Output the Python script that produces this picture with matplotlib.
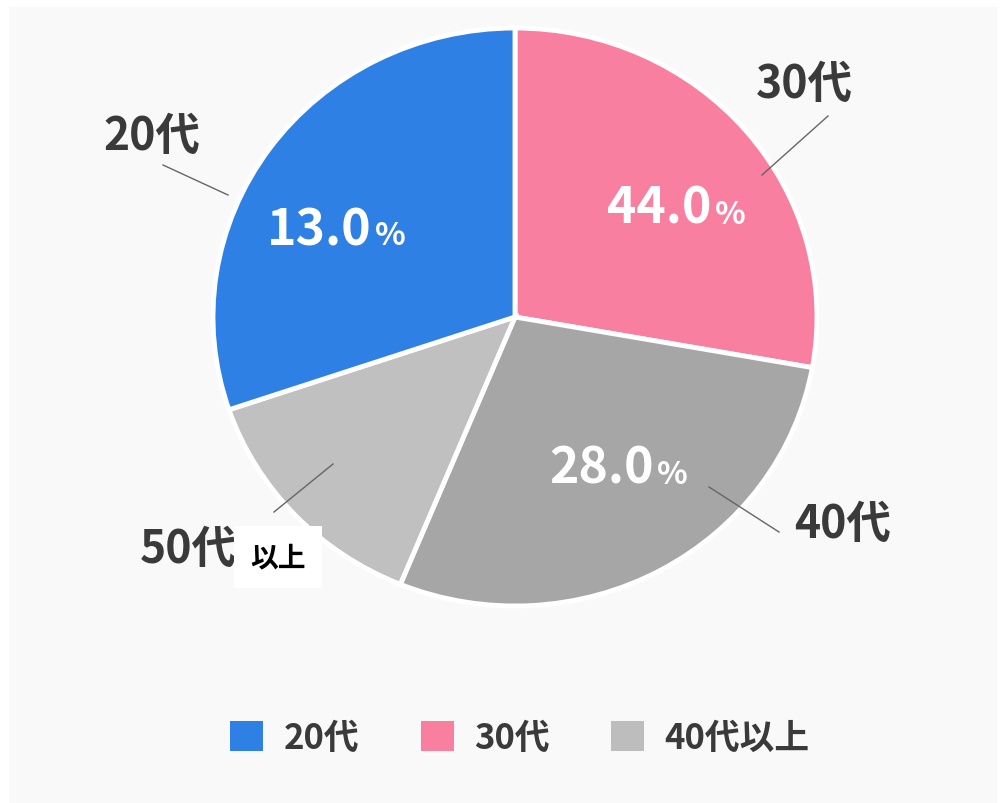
import matplotlib
matplotlib.use("Agg")
import matplotlib.pyplot as plt
from matplotlib.patches import Rectangle, Patch
from matplotlib.lines import Line2D

plt.rcParams['font.family'] = ['Noto Sans CJK JP', 'DejaVu Sans']

# Slices clockwise from 12 o'clock (sizes as drawn)
slice_names = ["30代", "40代", "50代", "20代"]
slice_sizes = [27.8, 28.4, 13.6, 30.2]
slice_colors = ["#f87fa0", "#a6a6a6", "#c0c0c0", "#2f80e4"]

# Percentage labels printed on the chart
pct_labels = {"20代": "13.0", "30代": "44.0", "40代": "28.0"}

# Legend
legend_labels = ["20代", "30代", "40代以上"]
legend_colors = ["#2f80e4", "#f87fa0", "#bdbdbd"]

W, H = 1006, 804
fig = plt.figure(figsize=(W / 100, H / 100), dpi=100, facecolor="white")


def fx(x, y):
    return (x / W, 1 - y / H)


# light panel background
fig.patches.append(Rectangle(fx(9, 804), (997 - 9) / W, (804 - 8) / H,
                             transform=fig.transFigure, facecolor="#f9f9f9",
                             edgecolor="none", zorder=-5))

ax = fig.add_axes([0, 0, 1, 1])
ax.set_zorder(1)
ax.patch.set_alpha(0)
cx, cy = 515, 318
rx, ry = 302, 289
ax.pie(slice_sizes, colors=slice_colors, startangle=90, counterclock=False,
       radius=1, wedgeprops=dict(edgecolor="white", linewidth=3.5))
ax.set_aspect("auto")
ax.set_xlim(-cx / rx, (W - cx) / rx)
ax.set_ylim(-(H - cy) / ry, cy / ry)
ax.axis("off")

# inside percentage labels (number + smaller %)
pct_pos = {"20代": (372, 245), "30代": (712, 224), "40代": (654, 484)}
for name, txt in pct_labels.items():
    x, y = pct_pos[name]
    fig.text(*fx(x, y), txt, color="white", fontsize=36, fontweight="bold",
             ha="right", va="baseline", zorder=5)
    fig.text(*fx(x + 3, y), "%", color="white", fontsize=23, fontweight="bold",
             ha="left", va="baseline", zorder=5)

# outer labels with leader lines
outer = {
    "20代": ((152, 137), ((163, 166), (228, 196))),
    "30代": ((804, 85), ((828, 117), (762, 176))),
    "40代": ((843, 525), ((709, 488), (779, 533))),
    "50代": ((188, 550), ((333, 465), (274, 513))),
}
for name, ((tx, ty), (p0, p1)) in outer.items():
    fig.text(*fx(tx, ty), name, color="#3a3a3a", fontsize=32, fontweight="bold",
             ha="center", va="center", zorder=5)
    a, b = fx(*p0), fx(*p1)
    fig.lines.append(Line2D([a[0], b[0]], [a[1], b[1]], transform=fig.transFigure,
                            color="#666666", linewidth=1, zorder=5))

fig.text(*fx(278, 558), "以上", color="black", fontsize=20, fontweight="bold",
         ha="center", va="center", zorder=6,
         bbox=dict(facecolor="white", edgecolor="none", pad=12))

handles = [Patch(facecolor=c, edgecolor="none") for c in legend_colors]
leg = fig.legend(handles, legend_labels, loc="center", bbox_to_anchor=fx(520, 738),
                 ncol=3, frameon=False, fontsize=25, handlelength=0.95, handleheight=0.95,
                 handletextpad=0.6, columnspacing=1.75, labelcolor="#3a3a3a",
                 prop=dict(weight="bold", size=25))
leg.set_zorder(5)

fig.savefig("out.png", dpi=100, facecolor="white")
